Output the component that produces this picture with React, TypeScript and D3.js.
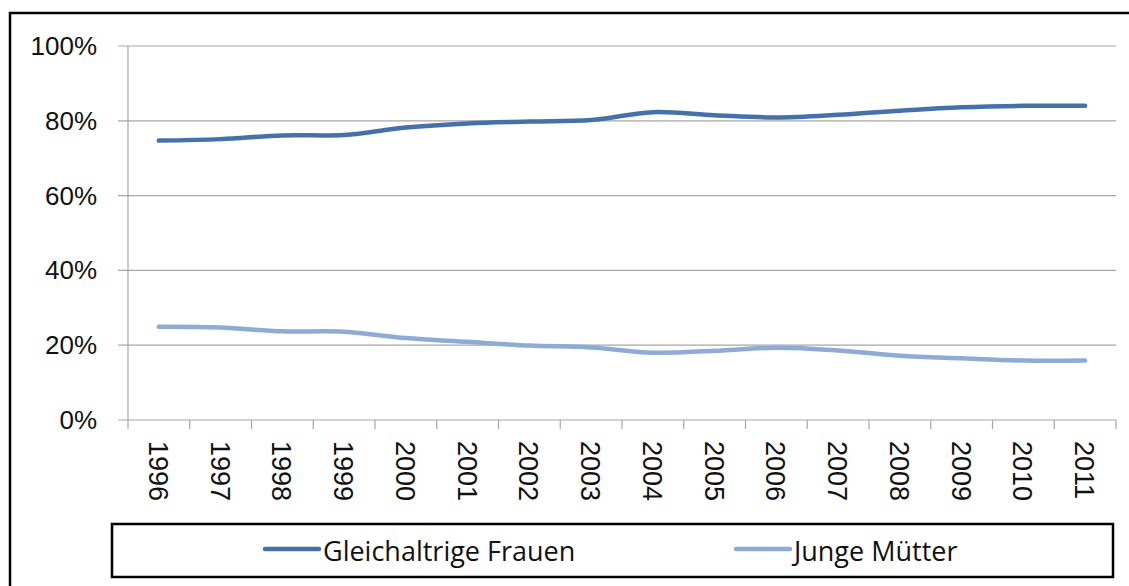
import React from "react";
import * as d3 from "d3";

const width = 1129;
const height = 586;
const margin = { top: 46, right: 13, bottom: 166, left: 128 };

const years = ["1996", "1997", "1998", "1999", "2000", "2001", "2002", "2003", "2004", "2005", "2006", "2007", "2008", "2009", "2010", "2011"];
const frauen = [74.7, 75.1, 76.1, 76.2, 78.2, 79.3, 79.8, 80.2, 82.3, 81.5, 80.9, 81.6, 82.7, 83.6, 84.0, 84.0];
const muetter = [24.9, 24.7, 23.7, 23.6, 21.9, 20.9, 19.9, 19.4, 18.0, 18.5, 19.3, 18.6, 17.2, 16.5, 15.9, 15.9];
const yTicks = [0, 20, 40, 60, 80, 100];

const series = [
  { name: "Gleichaltrige Frauen", values: frauen, color: "#4471a8", legendX: 265 },
  { name: "Junge Mütter", values: muetter, color: "#8eaad6", legendX: 736 },
];

const App = () => {
  const innerRight = width - margin.right;
  const innerBottom = height - margin.bottom;

  const xScale = d3.scaleBand().domain(years).range([margin.left, innerRight]);
  const yScale = d3.scaleLinear().domain([0, 100]).range([innerBottom, margin.top]);

  const line = d3
    .line<number>()
    .x((_, i) => (xScale(years[i]) ?? 0) + xScale.bandwidth() / 2)
    .y((d) => yScale(d))
    .curve(d3.curveCatmullRom.alpha(0.5));

  // tick marks sit on the band edges
  const edges = years.map((y) => xScale(y) ?? 0).concat([innerRight]);

  return (
    <svg width={width} height={height} style={{ position: "absolute", left: 0, top: 0, background: "#fff" }}>
      <rect x={10} y={13} width={1200} height={700} fill="#fff" stroke="#000" strokeWidth={2.5} />

      {yTicks.map((t) => (
        <g key={t}>
          <line x1={118} x2={innerRight} y1={yScale(t)} y2={yScale(t)} stroke="#a6a6a6" strokeWidth={1.2} />
          <text
            x={97}
            y={yScale(t)}
            textAnchor="end"
            dominantBaseline="central"
            fontFamily="Liberation Sans, Arial, sans-serif"
            fontSize={26}
            fill="#111"
          >
            {t}%
          </text>
        </g>
      ))}

      <line x1={margin.left} x2={margin.left} y1={margin.top} y2={innerBottom} stroke="#a6a6a6" strokeWidth={1.2} />
      {edges.map((x, i) => (
        <line key={i} x1={x} x2={x} y1={innerBottom} y2={innerBottom + 9} stroke="#a6a6a6" strokeWidth={1.2} />
      ))}

      {years.map((y) => {
        const cx = (xScale(y) ?? 0) + xScale.bandwidth() / 2;
        return (
          <text
            key={y}
            transform={`translate(${cx - 1},${innerBottom + 21}) rotate(90)`}
            dominantBaseline="central"
            fontFamily="Liberation Sans, Arial, sans-serif"
            fontSize={27}
            fill="#111"
          >
            {y}
          </text>
        );
      })}

      {series.map((s) => (
        <path
          key={s.name}
          d={line(s.values) ?? ""}
          fill="none"
          stroke={s.color}
          strokeWidth={4.5}
          strokeLinecap="round"
          strokeLinejoin="round"
        />
      ))}

      <rect x={112} y={524} width={1001} height={53} fill="#fff" stroke="#000" strokeWidth={2.5} />
      {series.map((s) => (
        <g key={s.name}>
          <line x1={s.legendX} x2={s.legendX + 54} y1={549} y2={549} stroke={s.color} strokeWidth={4.5} strokeLinecap="round" />
          <text
            x={s.legendX + 58}
            y={550}
            dominantBaseline="central"
            fontFamily="Open Sans, sans-serif"
            fontSize={27}
            fill="#111"
          >
            {s.name}
          </text>
        </g>
      ))}
    </svg>
  );
};

export default App;
